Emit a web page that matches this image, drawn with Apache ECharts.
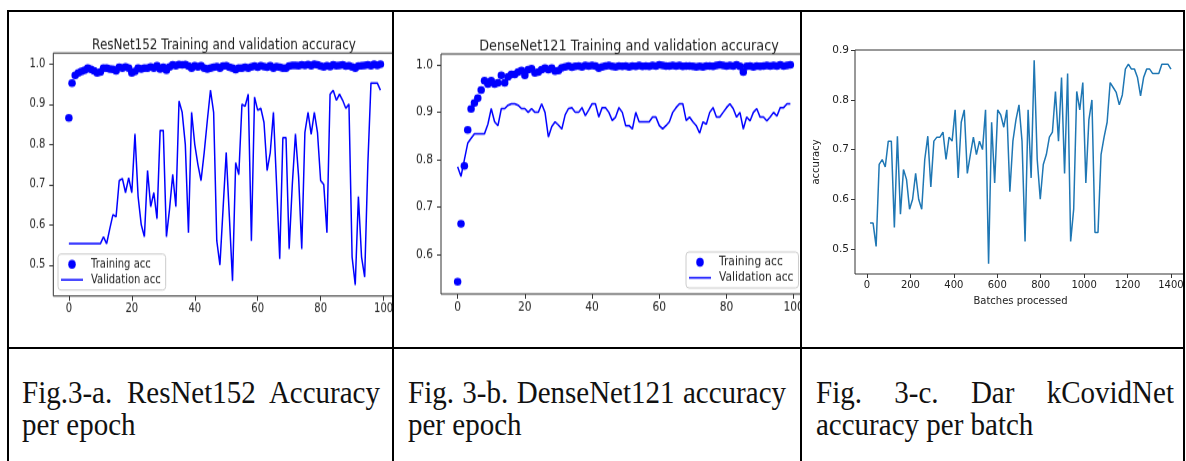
<!DOCTYPE html>
<html>
<head>
<meta charset="utf-8">
<script src="https://cdn.jsdelivr.net/npm/echarts@6/dist/echarts.min.js"></script>
<style>
  body { margin: 0; width: 1186px; height: 461px; background: #fff; position: relative; overflow: hidden; }
  .cell { position: absolute; overflow: hidden; }
  .chart { width: 100%; transform-origin: 0 0; }
  .line { position: absolute; background: #000; }
  .caption {
    position: absolute; font-family: "Liberation Serif", serif; font-size: 29px; line-height: 30px;
    color: #111; text-align: justify; text-align-last: left;
    transform: scaleY(1.08); transform-origin: 0 0;
  }
</style>
</head>
<body>
<div class="cell" style="left:9px;top:12px;width:383px;height:335px"><div id="c1" class="chart"></div></div>
<div class="cell" style="left:394px;top:12px;width:406px;height:335px"><div id="c2" class="chart"></div></div>
<div class="cell" style="left:802px;top:12px;width:381px;height:335px"><div id="c3" class="chart" style="height:335px"></div></div>

<div class="line" style="left:7px;top:10px;width:1178px;height:2px"></div>
<div class="line" style="left:7px;top:347px;width:1178px;height:2px"></div>
<div class="line" style="left:7px;top:10px;width:2px;height:451px"></div>
<div class="line" style="left:392px;top:10px;width:2px;height:451px"></div>
<div class="line" style="left:800px;top:10px;width:2px;height:451px"></div>
<div class="line" style="left:1183px;top:10px;width:2px;height:451px"></div>

<div class="caption" style="left:22px;top:376px;width:358px">Fig.3-a. ResNet152 Accuracy per epoch</div>
<div class="caption" style="left:408px;top:376px;width:378px">Fig. 3-b. DenseNet121 accuracy per epoch</div>
<div class="caption" style="left:816px;top:376px;width:358px">Fig. 3-c. Dar kCovidNet accuracy per batch</div>

<script>
// ResNet152, per epoch (index = epoch)
const resTrainAcc = [
  0.866, 0.953, 0.972, 0.978, 0.982, 0.985, 0.990, 0.987, 0.983, 0.978,
  0.980, 0.990, 0.990, 0.988, 0.987, 0.983, 0.992, 0.990, 0.993, 0.990,
  0.978, 0.982, 0.990, 0.988, 0.990, 0.990, 0.993, 0.990, 0.996, 0.988,
  0.992, 0.985, 0.993, 0.998, 0.996, 0.999, 0.998, 0.999, 0.995, 0.990,
  0.996, 0.993, 0.996, 0.990, 0.988, 0.990, 0.992, 0.994, 0.990, 0.995,
  0.996, 0.992, 0.990, 0.986, 0.990, 0.990, 0.992, 0.990, 0.993, 0.995,
  0.992, 0.996, 0.994, 0.992, 0.996, 0.990, 0.994, 0.992, 0.990, 0.990,
  0.995, 0.997, 0.997, 0.996, 0.998, 0.997, 0.999, 0.996, 1.000, 0.998,
  0.995, 0.993, 0.996, 0.994, 0.998, 0.996, 0.997, 0.998, 0.995, 0.996,
  0.993, 0.990, 0.995, 0.996, 0.997, 0.998, 0.996, 1.000, 0.997, 1.000
];
const resValAcc = [
  0.553, 0.553, 0.553, 0.553, 0.553, 0.553, 0.553, 0.553, 0.553, 0.553,
  0.553, 0.570, 0.553, 0.590, 0.625, 0.620, 0.710, 0.715, 0.680, 0.717,
  0.680, 0.826, 0.670, 0.600, 0.570, 0.735, 0.645, 0.680, 0.615, 0.835,
  0.835, 0.570, 0.640, 0.725, 0.645, 0.908, 0.880, 0.800, 0.580, 0.880,
  0.800, 0.750, 0.710, 0.780, 0.860, 0.935, 0.880, 0.560, 0.500, 0.640,
  0.780, 0.620, 0.460, 0.755, 0.725, 0.900, 0.895, 0.925, 0.560, 0.918,
  0.885, 0.890, 0.855, 0.735, 0.780, 0.880, 0.700, 0.515, 0.817, 0.817,
  0.540, 0.700, 0.826, 0.720, 0.540, 0.830, 0.880, 0.825, 0.880, 0.830,
  0.710, 0.700, 0.580, 0.925, 0.935, 0.910, 0.925, 0.910, 0.890, 0.900,
  0.520, 0.450, 0.670, 0.520, 0.470, 0.750, 0.953, 0.953, 0.953, 0.935
];

// DenseNet121, per epoch
const denseTrainAcc = [
  0.543, 0.665, 0.787, 0.863, 0.907, 0.920, 0.930, 0.947, 0.967, 0.960,
  0.967, 0.960, 0.962, 0.978, 0.962, 0.975, 0.980, 0.980, 0.985, 0.988,
  0.978, 0.990, 0.992, 0.983, 0.985, 0.990, 0.993, 0.990, 0.993, 0.987,
  0.988, 0.994, 0.996, 0.998, 0.995, 0.997, 0.998, 0.996, 0.999, 0.998,
  0.999, 0.998, 0.993, 0.996, 0.998, 0.999, 0.997, 0.996, 0.998, 0.997,
  0.998, 0.996, 0.998, 0.997, 0.999, 0.997, 0.998, 0.997, 0.999, 0.998,
  1.000, 0.999, 0.998, 0.998, 0.999, 0.998, 0.999, 0.997, 0.998, 0.998,
  0.997, 0.996, 0.997, 0.996, 0.998, 0.998, 0.997, 0.999, 1.000, 0.999,
  0.998, 0.999, 0.998, 1.000, 0.997, 0.985, 0.997, 0.998, 0.996, 0.998,
  0.997, 0.998, 0.999, 0.998, 0.999, 0.998, 1.000, 0.998, 0.999, 1.000
];
const denseValAcc = [
  0.785, 0.765, 0.800, 0.835, 0.845, 0.855, 0.855, 0.855, 0.855, 0.875,
  0.908, 0.880, 0.872, 0.908, 0.908, 0.915, 0.918, 0.918, 0.915, 0.908,
  0.908, 0.900, 0.908, 0.900, 0.900, 0.918, 0.900, 0.848, 0.870, 0.880,
  0.873, 0.865, 0.895, 0.908, 0.910, 0.900, 0.900, 0.910, 0.893, 0.905,
  0.918, 0.918, 0.890, 0.910, 0.910, 0.900, 0.883, 0.890, 0.910, 0.900,
  0.872, 0.872, 0.865, 0.900, 0.880, 0.880, 0.880, 0.880, 0.890, 0.890,
  0.872, 0.865, 0.872, 0.880, 0.900, 0.910, 0.918, 0.918, 0.883, 0.890,
  0.880, 0.872, 0.856, 0.880, 0.875, 0.900, 0.910, 0.890, 0.890, 0.900,
  0.910, 0.918, 0.908, 0.890, 0.900, 0.865, 0.890, 0.882, 0.900, 0.908,
  0.890, 0.890, 0.882, 0.890, 0.900, 0.892, 0.910, 0.910, 0.918, 0.918
];

// DarkCovidNet, per batch
const batches = [
  14, 28, 42, 56, 70, 84, 98, 112, 126, 140,
  154, 168, 182, 196, 210, 224, 238, 252, 266, 280,
  294, 308, 322, 336, 350, 364, 378, 392, 406, 420,
  434, 448, 462, 476, 490, 504, 518, 532, 546, 560,
  574, 588, 602, 616, 630, 644, 658, 672, 686, 700,
  714, 728, 742, 756, 770, 784, 798, 812, 826, 840,
  854, 868, 882, 896, 910, 924, 938, 952, 966, 980,
  994, 1008, 1022, 1036, 1050, 1064, 1078, 1092, 1106, 1120,
  1134, 1148, 1162, 1176, 1190, 1204, 1218, 1232, 1246, 1260,
  1274, 1288, 1302, 1316, 1330, 1344, 1358, 1372, 1386, 1400
];
const batchAcc = [
  0.552, 0.552, 0.505, 0.670, 0.680, 0.665, 0.717, 0.717, 0.543, 0.727,
  0.570, 0.660, 0.640, 0.580, 0.600, 0.652, 0.600, 0.580, 0.680, 0.727,
  0.625, 0.717, 0.725, 0.725, 0.735, 0.680, 0.725, 0.717, 0.780, 0.643,
  0.755, 0.780, 0.652, 0.690, 0.725, 0.690, 0.717, 0.700, 0.780, 0.470,
  0.755, 0.633, 0.780, 0.770, 0.745, 0.780, 0.615, 0.717, 0.760, 0.790,
  0.717, 0.515, 0.780, 0.643, 0.880, 0.680, 0.600, 0.670, 0.690, 0.725,
  0.735, 0.817, 0.717, 0.845, 0.652, 0.853, 0.515, 0.580, 0.817, 0.780,
  0.835, 0.633, 0.760, 0.800, 0.533, 0.533, 0.690, 0.725, 0.755, 0.835,
  0.825, 0.815, 0.790, 0.810, 0.862, 0.872, 0.862, 0.862, 0.845, 0.808,
  0.845, 0.862, 0.862, 0.853, 0.853, 0.853, 0.872, 0.872, 0.872, 0.862
];

const epochTicks = [0, 20, 40, 60, 80, 100];
const resAccTicks = [0.5, 0.6, 0.7, 0.8, 0.9, 1.0];
const denseAccTicks = [0.6, 0.7, 0.8, 0.9, 1.0];
const batchTicks = [0, 200, 400, 600, 800, 1000, 1200, 1400];
const batchAccTicks = [0.5, 0.6, 0.7, 0.8, 0.9];

const FONT = 'DejaVu Sans';
const SY = 1.2; // the first two plots are stretched vertically in the source

// value axis styled like matplotlib, ticks only where we ask
function mplAxis(min, max, ticks, fmt, margin, fs) {
  return {
    type: 'value', min: min, max: max,
    splitLine: { show: false },
    axisLine: { show: false, onZero: false },
    axisTick: { show: true, length: 4, customValues: ticks, lineStyle: { color: '#333' } },
    axisLabel: {
      customValues: ticks, margin: margin, formatter: fmt,
      fontFamily: FONT, fontSize: fs, color: '#222'
    }
  };
}

function epochLegend(left, top, fs) {
  return {
    orient: 'vertical', left: left, top: top,
    data: [
      { name: 'Training acc', icon: 'circle' },
      { name: 'Validation acc', icon: 'path://M0,0 L22,0 L22,1.5 L0,1.5 Z' }
    ],
    itemWidth: 22, itemHeight: 7.5, itemGap: 0,
    padding: [2, 5, 2, 3],
    borderColor: '#ccc', borderWidth: 1, borderRadius: 3,
    backgroundColor: 'rgba(255,255,255,0.8)',
    selectedMode: false,
    textStyle: { fontFamily: FONT, fontSize: fs, color: '#222', lineHeight: 13, padding: [0, 0, 0, 3] }
  };
}

function epochChart(id, cellH, fk, title, titleX, grid, yMin, yMax, yTicks, train, val, legendPos) {
  const el = document.getElementById(id);
  el.style.height = (cellH / SY) + 'px';
  el.style.transform = 'scaleY(' + SY + ')';
  const chart = echarts.init(el);
  chart.setOption({
    animation: false,
    title: {
      text: title, left: titleX, top: 17, textAlign: 'center',
      textStyle: { fontFamily: FONT, fontSize: 12 * fk, fontWeight: 'normal', color: '#222' }
    },
    legend: epochLegend(legendPos[0], legendPos[1], 10 * fk),
    grid: Object.assign({
      show: true, borderColor: '#333', borderWidth: 1,
      containLabel: false, outerBoundsMode: 'none'
    }, grid),
    xAxis: mplAxis(-4.95, 103.95, epochTicks, v => String(Math.round(v)), 6, 10 * fk),
    yAxis: mplAxis(yMin, yMax, yTicks, v => v.toFixed(1), 8, 10 * fk),
    series: [
      {
        name: 'Training acc', type: 'scatter', symbol: 'circle', symbolSize: [7.5, 6.5],
        itemStyle: { color: '#0000ff', opacity: 1 },
        data: train.map((v, i) => [i, v])
      },
      {
        name: 'Validation acc', type: 'line', symbol: 'none',
        lineStyle: { color: '#0000ff', width: 1.5 }, itemStyle: { color: '#0000ff' },
        data: val.map((v, i) => [i, v])
      }
    ]
  });
}

epochChart('c1', 335, 1.0, 'ResNet152 Training and validation accuracy', 210,
  { left: 44.3, right: -4, top: 34.2, height: 202.5 },
  0.4225, 1.0275, resAccTicks, resTrainAcc, resValAcc, [49, 201.7]);

epochChart('c2', 335, 1.07, 'DenseNet121 Training and validation accuracy', 230,
  { left: 47, right: -7, top: 35, height: 200 },
  0.517, 1.023, denseAccTicks, denseTrainAcc, denseValAcc, [292, 200]);

const chart3 = echarts.init(document.getElementById('c3'));
const x3 = mplAxis(-55.3, 1469.3, batchTicks, v => String(Math.round(v)), 6, 10);
x3.name = 'Batches processed';
x3.nameLocation = 'middle';
x3.nameGap = 22;
x3.nameTextStyle = { fontFamily: FONT, fontSize: 10, color: '#222' };
const y3 = mplAxis(0.4495, 0.9005, batchAccTicks, v => v.toFixed(1), 6, 10.5);
y3.name = 'accuracy';
y3.nameLocation = 'middle';
y3.nameGap = 26;
y3.nameTextStyle = { fontFamily: FONT, fontSize: 10, color: '#222' };
chart3.setOption({
  animation: false,
  grid: {
    show: true, borderColor: '#333', borderWidth: 1,
    containLabel: false, outerBoundsMode: 'none',
    left: 53, right: -3, top: 38, height: 224
  },
  xAxis: x3,
  yAxis: y3,
  series: [{
    type: 'line', symbol: 'none',
    lineStyle: { color: '#1f77b4', width: 1.5 },
    data: batches.map((b, i) => [b, batchAcc[i]])
  }]
});
</script>
</body>
</html>
